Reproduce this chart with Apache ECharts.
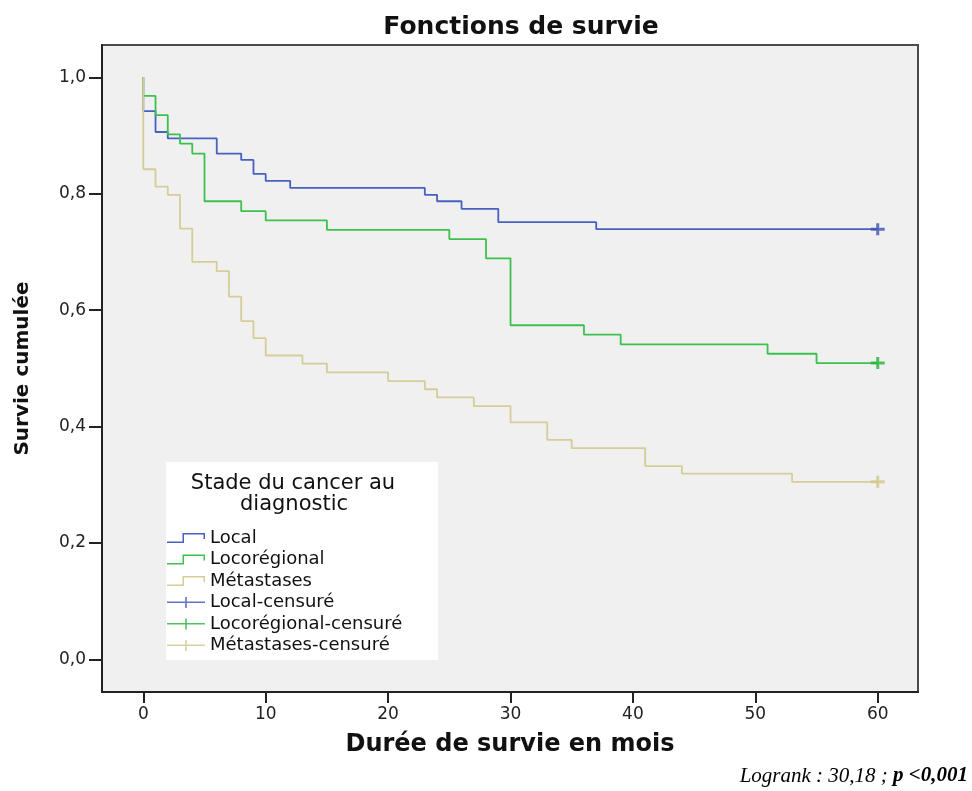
<!DOCTYPE html>
<html><head><meta charset="utf-8">
<script src="https://cdn.jsdelivr.net/npm/echarts@6/dist/echarts.min.js"></script>
<style>html,body{margin:0;padding:0;background:#fff}#c{width:972px;height:791px}</style>
</head><body><div id="c"></div>
<script>
// ---- data ----
const xTicks = [0, 10, 20, 30, 40, 50, 60];
const yTicks = [0, 0.2, 0.4, 0.6, 0.8, 1.0];

const groupNames = ['Local', 'Locorégional', 'Métastases'];
const censorNames = ['Local-censuré', 'Locorégional-censuré', 'Métastases-censuré'];

const localTimes = [0, 0, 1, 2, 6, 8, 9, 10, 12, 23, 24, 26, 29, 37, 60];
const localSurv  = [1.0, 0.942, 0.906, 0.895, 0.869, 0.858, 0.834, 0.822, 0.810, 0.798, 0.787, 0.774, 0.751, 0.739, 0.739];

const locoTimes = [0, 0, 1, 2, 3, 4, 5, 8, 10, 15, 25, 28, 30, 36, 39, 51, 55, 60];
const locoSurv  = [1.0, 0.968, 0.935, 0.902, 0.886, 0.869, 0.787, 0.770, 0.754, 0.738, 0.722, 0.689, 0.574, 0.558, 0.541, 0.525, 0.509, 0.509];

const metaTimes = [0, 0, 1, 2, 3, 4, 6, 7, 8, 9, 10, 13, 15, 20, 23, 24, 27, 30, 33, 35, 41, 44, 53, 60];
const metaSurv  = [1.0, 0.842, 0.812, 0.798, 0.740, 0.683, 0.667, 0.623, 0.581, 0.552, 0.522, 0.508, 0.493, 0.478, 0.464, 0.450, 0.435, 0.407, 0.377, 0.363, 0.332, 0.319, 0.305, 0.305];

const censorTimes = [60, 60, 60];
const censorSurv  = [0.739, 0.509, 0.305];

// ---- styles ----
const lineColors = ['#4761c2', '#3cc14e', '#d5cd97'];
const markColors = ['#3a52b4', '#26b03a', '#cfc58b'];

const stepIcon = 'path://M0,8.5H17V10H0Z M15.5,0H17V10H15.5Z M15.5,0H38V1.5H15.5Z M36.5,0H38V6H36.5Z';
const plusIcon = 'path://M0,4.5H38V6H0Z M18.2,0H19.8V11H18.2Z';
const plusSymbol = 'path://M5.5,0H8.5V4.5H14V7.5H8.5V12H5.5V7.5H0V4.5H5.5Z';

const allTimes = [localTimes, locoTimes, metaTimes];
const allSurv = [localSurv, locoSurv, metaSurv];

const series = [];
groupNames.forEach((n, i) => {
  series.push({
    name: n, type: 'line', step: 'end', showSymbol: false, symbol: 'none',
    data: allTimes[i].map((t, k) => [t, allSurv[i][k]]),
    lineStyle: { color: lineColors[i], width: 1.8 },
    itemStyle: { color: lineColors[i] },
    animation: false, z: 2
  });
});
censorNames.forEach((n, i) => {
  series.push({
    name: n, type: 'scatter', symbol: plusSymbol, symbolSize: [14, 12],
    data: [[censorTimes[i], censorSurv[i]]],
    itemStyle: { color: markColors[i] },
    animation: false, z: 3
  });
});

const fmt = v => v.toFixed(1).replace('.', ',');

const chart = echarts.init(document.getElementById('c'), null, { renderer: 'canvas' });
chart.setOption({
  backgroundColor: '#ffffff',
  animation: false,
  grid: { left: 102, top: 45, width: 816, height: 647, show: true, backgroundColor: '#f0f0f0', borderColor: '#4a4a4a', borderWidth: 2 },
  xAxis: {
    type: 'value', min: -3.374, max: 63.29,
    name: 'Durée de survie en mois', nameLocation: 'middle', nameGap: 41,
    nameTextStyle: { fontFamily: 'DejaVu Sans', fontWeight: 'bold', fontSize: 24, color: '#111' },
    axisLine: { show: true, onZero: false, lineStyle: { color: '#222', width: 2 } },
    axisTick: { show: true, customValues: xTicks, length: 11, lineStyle: { color: '#222', width: 2 } },
    axisLabel: { customValues: xTicks, margin: 14, fontFamily: 'DejaVu Sans', fontSize: 17, color: '#222', formatter: v => String(v) },
    splitLine: { show: false }
  },
  yAxis: {
    type: 'value', min: -0.0562, max: 1.0555,
    name: 'Survie cumulée', nameLocation: 'middle', nameGap: 69,
    nameTextStyle: { fontFamily: 'DejaVu Sans', fontWeight: 'bold', fontSize: 20, color: '#111' },
    axisLine: { show: true, onZero: false, lineStyle: { color: '#222', width: 2 } },
    axisTick: { show: true, customValues: yTicks, length: 13, lineStyle: { color: '#222', width: 2 } },
    axisLabel: { customValues: yTicks, margin: 16, fontFamily: 'DejaVu Sans', fontSize: 17, color: '#222', formatter: fmt },
    splitLine: { show: false }
  },
  legend: {
    orient: 'vertical', left: 167, top: 529, padding: 0,
    itemWidth: 38, itemHeight: 11, itemGap: 3.5,
    itemStyle: { borderWidth: 0 },
    textStyle: { fontFamily: 'DejaVu Sans', fontSize: 18, lineHeight: 18, color: '#111', padding: [0, 0, 0, 0] },
    selectedMode: false,
    data: [
      { name: groupNames[0], icon: stepIcon },
      { name: groupNames[1], icon: stepIcon },
      { name: groupNames[2], icon: stepIcon },
      { name: censorNames[0], icon: plusIcon },
      { name: censorNames[1], icon: plusIcon },
      { name: censorNames[2], icon: plusIcon }
    ]
  },
  graphic: [
    { type: 'text', x: 521, y: 27, z: 5,
      style: { text: 'Fonctions de survie', fill: '#111', font: 'bold 25px "DejaVu Sans"', align: 'center', verticalAlign: 'middle' } },
    { type: 'rect', z: 3, shape: { x: 166, y: 462, width: 272, height: 198 }, style: { fill: '#ffffff' } },
    { type: 'text', x: 293, y: 484, z: 5,
      style: { text: 'Stade du cancer au', fill: '#111', font: '21px "DejaVu Sans"', align: 'center', verticalAlign: 'middle' } },
    { type: 'text', x: 294, y: 505, z: 5,
      style: { text: 'diagnostic', fill: '#111', font: '21px "DejaVu Sans"', align: 'center', verticalAlign: 'middle' } },
    { type: 'text', x: 968, y: 776, z: 5,
      style: {
        text: '{a|Logrank : 30,18 ; }{b|p <0,001}', align: 'right', verticalAlign: 'middle', fill: '#000',
        rich: {
          a: { fontFamily: 'Liberation Serif', fontStyle: 'italic', fontSize: 21, fill: '#000' },
          b: { fontFamily: 'Liberation Serif', fontStyle: 'italic', fontWeight: 'bold', fontSize: 21, fill: '#000' }
        }
      } }
  ],
  series: series
});
</script>
</body></html>
